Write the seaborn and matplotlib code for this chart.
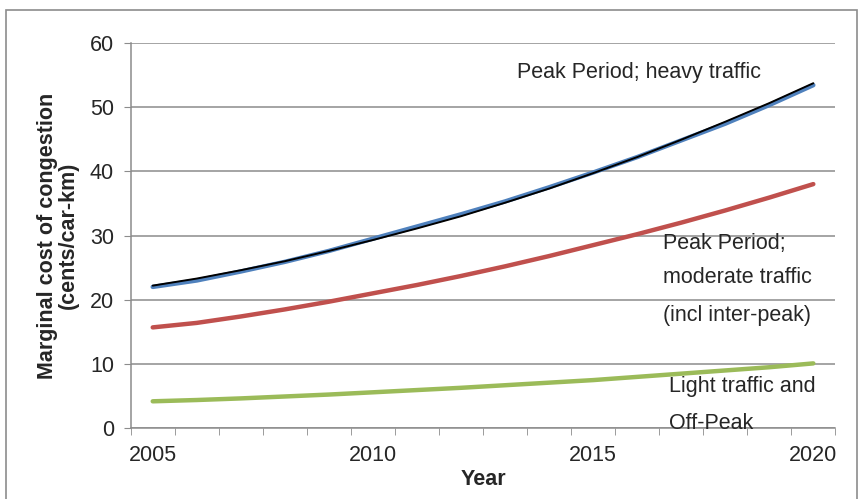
import pandas as pd
import numpy as np
import seaborn as sns
from matplotlib import pyplot as plt
from matplotlib.patches import Rectangle

years = list(range(2005, 2021))
heavy = [22.0, 23.0, 24.4, 25.9, 27.6, 29.5, 31.4, 33.3, 35.3, 37.5, 39.8, 42.2, 44.8, 47.4, 50.3, 53.4]
heavy_trend = [22.2, 23.3, 24.6, 26.0, 27.6, 29.3, 31.1, 33.0, 35.1, 37.3, 39.7, 42.2, 44.9, 47.7, 50.6, 53.7]
moderate = [15.7, 16.4, 17.4, 18.5, 19.7, 21.0, 22.3, 23.7, 25.2, 26.8, 28.5, 30.2, 32.0, 33.9, 35.9, 38.0]
light = [4.2, 4.4, 4.65, 4.95, 5.25, 5.6, 5.95, 6.3, 6.7, 7.1, 7.5, 8.0, 8.5, 9.0, 9.5, 10.1]

df = pd.DataFrame({"pos": np.arange(len(years)), "heavy": heavy, "trend": heavy_trend,
                   "moderate": moderate, "light": light})

sns.set_style("white")
plt.rcParams['font.family'] = ['Liberation Sans', 'DejaVu Sans']
fs = 15.5

fig = plt.figure(figsize=(8.61, 4.99), dpi=100)
ax = fig.add_axes([0.1518, 0.1417, 0.9702 - 0.1518, 0.9144 - 0.1417])

sns.lineplot(data=df, x="pos", y="light", color="#9BBB59", linewidth=3.2, ax=ax)
sns.lineplot(data=df, x="pos", y="moderate", color="#C0504D", linewidth=3.2, ax=ax)
sns.lineplot(data=df, x="pos", y="heavy", color="#4F81BD", linewidth=3.2, ax=ax)
sns.lineplot(data=df, x="pos", y="trend", color="black", linewidth=1.4, ax=ax)
for l in ax.lines:
    l.set_solid_capstyle("round")

ax.set_xlim(-0.5, len(years) - 0.5)
ax.set_ylim(0, 60)
ax.set_yticks(range(0, 61, 10))
ax.set_xticks([0, 5, 10, 15])
ax.set_xticklabels([str(years[i]) for i in [0, 5, 10, 15]], fontsize=fs)
ax.set_xticks(np.arange(-0.5, len(years)), minor=True)
ax.tick_params(axis="x", which="major", length=0, pad=12)
ax.tick_params(axis="x", which="minor", length=5, color="#8c8c8c", direction="out", bottom=True)
ax.tick_params(axis="y", length=5, color="#8c8c8c", direction="out", left=True, labelsize=fs, pad=7)
ax.grid(axis="y", color="#8c8c8c", linewidth=1.1)
ax.grid(axis="x", visible=False)
ax.set_axisbelow(True)
for s in ["top", "right"]:
    ax.spines[s].set_visible(False)
for s in ["left", "bottom"]:
    ax.spines[s].set_color("#8c8c8c")
    ax.spines[s].set_linewidth(1.1)

ax.set_xlabel("Year", fontsize=fs, fontweight="bold", labelpad=2)
ax.set_ylabel("Marginal cost of congestion\n(cents/car-km)", fontsize=fs, fontweight="bold",
              labelpad=8, linespacing=1.0)

ax.text(8.27, 55.4, "Peak Period; heavy traffic", fontsize=fs, va="center")
ax.text(11.58, 28.8, "Peak Period;", fontsize=fs, va="center")
ax.text(11.58, 23.4, "moderate traffic", fontsize=fs, va="center")
ax.text(11.58, 17.5, "(incl inter-peak)", fontsize=fs, va="center")
ax.text(11.72, 6.5, "Light traffic and", fontsize=fs, va="center")
ax.text(11.72, 0.8, "Off-Peak", fontsize=fs, va="center")

fig.patches.append(Rectangle((6 / 861, -0.1), (857 - 6) / 861, 1.1 - 10 / 499,
                             transform=fig.transFigure, fill=False, edgecolor="#8c8c8c",
                             linewidth=1.2))

fig.savefig("out.png", dpi=100)
